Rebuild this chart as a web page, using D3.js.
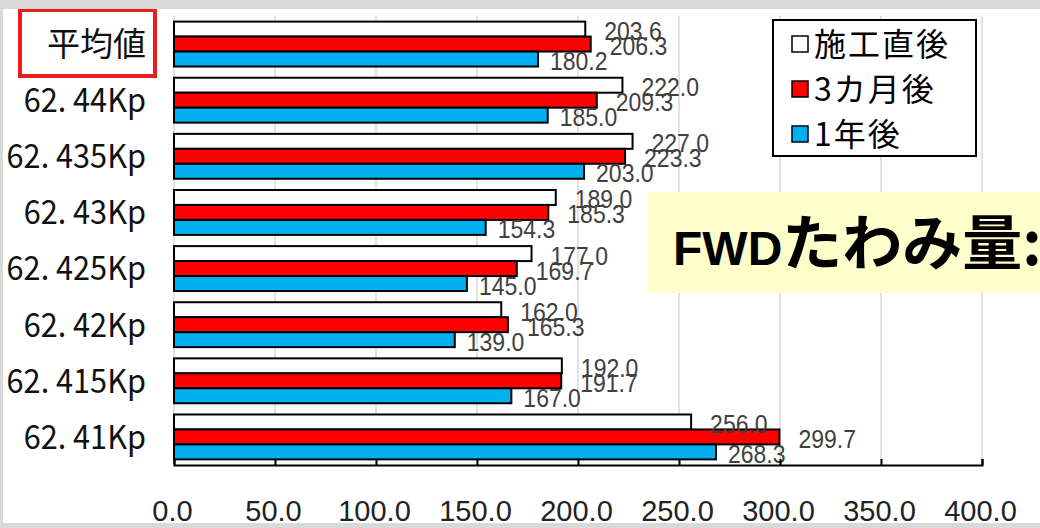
<!DOCTYPE html>
<html>
<head>
<meta charset="utf-8">
<script src="https://cdn.jsdelivr.net/npm/d3@7"></script>
<style>
  html, body { margin: 0; padding: 0; background: #fff; }
  svg { display: block; }
</style>
</head>
<body>
<svg id="chart" width="1040" height="528"></svg>
<script>
// FWD deflection by measuring point, three survey times
const categories = ["平均値", "62. 44Kp", "62. 435Kp", "62. 43Kp", "62. 425Kp", "62. 42Kp", "62. 415Kp", "62. 41Kp"];
const seriesNames = ["施工直後", "3カ月後", "1年後"];
const afterConstruction = [203.6, 222.0, 227.0, 189.0, 177.0, 162.0, 192.0, 256.0];
const after3Months = [206.3, 209.3, 223.3, 185.3, 169.7, 165.3, 191.7, 299.7];
const after1Year = [180.2, 185.0, 203.0, 154.3, 145.0, 139.0, 167.0, 268.3];
const xTicks = [0, 50, 100, 150, 200, 250, 300, 350, 400];

const seriesValues = [afterConstruction, after3Months, after1Year];
const seriesColors = ["#ffffff", "#ff0000", "#00b0f0"];

const svg = d3.select("#chart");
const fmt = d3.format(".1f");
const jpFont = "'Noto Sans CJK JP', 'Noto Sans', sans-serif";
const numFont = "'Liberation Sans', Arial, sans-serif";

const plotTop = 16, plotBottom = 465;
const x = d3.scaleLinear().domain([0, 400]).range([174, 982]);
const y = d3.scaleBand().domain(categories).range([plotTop, plotBottom])
  .paddingInner(0.2).paddingOuter(0.1);
const sub = d3.scaleBand().domain(d3.range(seriesNames.length)).range([0, y.bandwidth()]);

// vertical gridlines
svg.append("g").selectAll("line").data(xTicks).join("line")
  .attr("x1", d => x(d)).attr("x2", d => x(d))
  .attr("y1", plotTop).attr("y2", plotBottom)
  .attr("stroke", "#d9d9d9").attr("stroke-width", 1.5);

// bars
const rows = [];
categories.forEach((c, ci) => {
  seriesValues.forEach((vals, si) => rows.push({ cat: c, s: si, v: vals[ci] }));
});

svg.append("g").selectAll("rect").data(rows).join("rect")
  .attr("x", x(0))
  .attr("y", d => y(d.cat) + sub(d.s))
  .attr("width", d => x(d.v) - x(0))
  .attr("height", sub.bandwidth())
  .attr("fill", d => seriesColors[d.s])
  .attr("stroke", "#000")
  .attr("stroke-width", 2);

// value labels (slightly condensed)
const labelGap = s => (s === 2 ? 12 : 19);
svg.append("g").selectAll("text").data(rows).join("text")
  .attr("transform", d => `translate(${x(d.v) + labelGap(d.s)},${y(d.cat) + sub(d.s) + sub.bandwidth() / 2 + 2}) scale(0.92,1)`)
  .attr("dy", "0.36em")
  .attr("font-family", numFont)
  .attr("font-size", 25)
  .attr("fill", "#404040")
  .text(d => fmt(d.v));

// bottom axis with inward ticks
const axis = svg.append("g")
  .attr("transform", `translate(0,${plotBottom})`)
  .call(d3.axisBottom(x).tickValues(xTicks).tickSize(-6).tickPadding(35).tickFormat(fmt));
axis.select(".domain").attr("stroke", "#000").attr("stroke-width", 2);
axis.selectAll(".tick line").attr("stroke", "#000").attr("stroke-width", 2);
axis.selectAll(".tick text")
  .attr("x", -2)
  .attr("font-family", numFont)
  .attr("font-size", 29)
  .attr("fill", "#222");

// category labels; the Latin/numeric ones are drawn condensed
svg.append("g").selectAll("text").data(categories).join("text")
  .attr("transform", d => `translate(146,${y(d) + y.bandwidth() / 2}) scale(${/[0-9]/.test(d) ? 0.93 : 1},1)`)
  .attr("dy", "0.36em")
  .attr("text-anchor", "end")
  .attr("font-family", jpFont)
  .attr("font-size", 33)
  .attr("fill", "#111")
  .text(d => d);

// highlight box around the average label
svg.append("rect")
  .attr("x", 20).attr("y", 10).attr("width", 135).attr("height", 66)
  .attr("fill", "none").attr("stroke", "#ee1c1c").attr("stroke-width", 4);

// legend
const legend = svg.append("g");
legend.append("rect")
  .attr("x", 773).attr("y", 20).attr("width", 203).attr("height", 136)
  .attr("fill", "#fff").attr("stroke", "#000").attr("stroke-width", 2);
const legendItems = legend.selectAll("g.item").data(seriesNames).join("g")
  .attr("class", "item")
  .attr("transform", (d, i) => `translate(792,${44 + i * 45})`);
legendItems.append("rect")
  .attr("x", 0).attr("y", -8).attr("width", 16).attr("height", 16)
  .attr("fill", (d, i) => seriesColors[i])
  .attr("stroke", "#000").attr("stroke-width", 1.5);
legendItems.append("text")
  .attr("x", 22).attr("dy", "0.36em")
  .attr("font-family", jpFont)
  .attr("font-size", 32)
  .attr("letter-spacing", 2)
  .attr("fill", "#000")
  .text(d => d);

// title callout
const callout = svg.append("g");
callout.append("rect")
  .attr("x", 648).attr("y", 192).attr("width", 400).attr("height", 101)
  .attr("fill", "#ffffcc");
const title = callout.append("text")
  .attr("x", 673).attr("y", 265)
  .attr("font-weight", "bold")
  .attr("fill", "#000");
title.append("tspan").attr("font-family", numFont).attr("font-size", 48).text("FWD");
title.append("tspan").attr("font-family", jpFont).attr("font-size", 60).text("たわみ量:");

// grey frame
svg.append("rect").attr("x", 0).attr("y", 0).attr("width", 1040).attr("height", 9).attr("fill", "#d9d9d9");
svg.append("rect").attr("x", 0).attr("y", 0).attr("width", 3).attr("height", 528).attr("fill", "#d9d9d9");
svg.append("rect").attr("x", 0).attr("y", 523).attr("width", 1040).attr("height", 5).attr("fill", "#d9d9d9");
</script>
</body>
</html>
